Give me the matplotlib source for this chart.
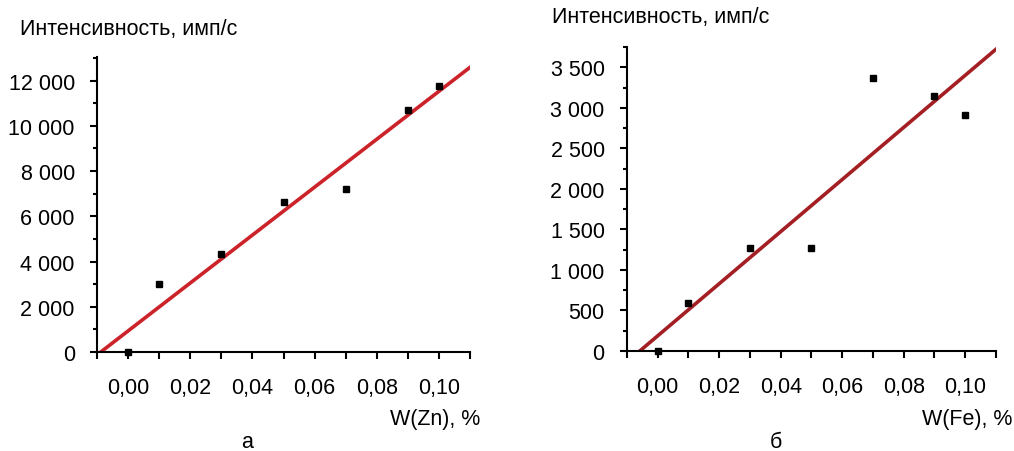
import numpy as np
import matplotlib
matplotlib.use("Agg")
from matplotlib import pyplot as plt
from matplotlib.ticker import FuncFormatter, MultipleLocator

plt.rcParams['font.family'] = ['Liberation Sans', 'DejaVu Sans']

# measured data
w_zn = [0.00, 0.01, 0.03, 0.05, 0.07, 0.09, 0.10]
i_zn = [0, 3000, 4330, 6620, 7200, 10700, 11760]

w_fe = [0.00, 0.01, 0.03, 0.05, 0.07, 0.09, 0.10]
i_fe = [0, 595, 1275, 1270, 3370, 3140, 2910]

y_label = "Интенсивность, имп/с"
fs = 15.5


def thousands(v, pos):
    return f"{int(round(v)):,}".replace(",", " ")


def decimal_comma(v, pos):
    if abs(round(v * 100) % 2) == 1:
        return ""
    return f"{v:.2f}".replace(".", ",")


def panel(ax, x, y, ymax, ymajor, yminor, color):
    k, b = np.polyfit(x, y, 1)
    xs = np.array([-0.01, 0.11])
    ax.plot(xs, k * xs + b, color=color, lw=2.6, zorder=2)
    ax.plot(x, y, ls="none", marker="s", ms=5, color="black", zorder=3,
            clip_on=False)

    ax.set_xlim(-0.01, 0.11)
    ax.set_ylim(0, ymax)
    for s in ("top", "right"):
        ax.spines[s].set_visible(False)
    for s in ("left", "bottom"):
        ax.spines[s].set_linewidth(1.5)

    ax.xaxis.set_major_locator(MultipleLocator(0.01))
    ax.xaxis.set_major_formatter(FuncFormatter(decimal_comma))
    ax.yaxis.set_major_locator(MultipleLocator(ymajor))
    ax.yaxis.set_minor_locator(MultipleLocator(yminor))
    ax.yaxis.set_major_formatter(FuncFormatter(thousands))
    ax.tick_params(axis="both", which="major", length=5, width=1.5,
                   labelsize=fs, pad=11)
    ax.tick_params(axis="x", which="major", pad=13)
    ax.tick_params(axis="y", which="minor", length=3, width=1.5)


fig = plt.figure(figsize=(10.14, 4.52), dpi=100)

ax1 = fig.add_axes([0.0957, 0.219, 0.3678, 0.653])
panel(ax1, w_zn, i_zn, 13050, 2000, 1000, "#cc2229")
fig.text(20 / 1014, 1 - 30 / 452, y_label, fontsize=fs, va="center")
fig.text(480 / 1014, 1 - 419 / 452, "W(Zn), %", fontsize=fs,
         ha="right", va="center")
fig.text(247 / 1014, 1 - 443 / 452, "а", fontsize=fs, ha="center",
         va="center")

ax2 = fig.add_axes([0.6183, 0.2212, 0.3639, 0.6726])
panel(ax2, w_fe, i_fe, 3750, 500, 250, "#a31f24")
fig.text(552 / 1014, 1 - 17 / 452, y_label, fontsize=fs, va="center")
fig.text(1012 / 1014, 1 - 420 / 452, "W(Fe), %", fontsize=fs,
         ha="right", va="center")
fig.text(776 / 1014, 1 - 443 / 452, "б", fontsize=fs, ha="center",
         va="center")

fig.savefig("out.png", dpi=100)
